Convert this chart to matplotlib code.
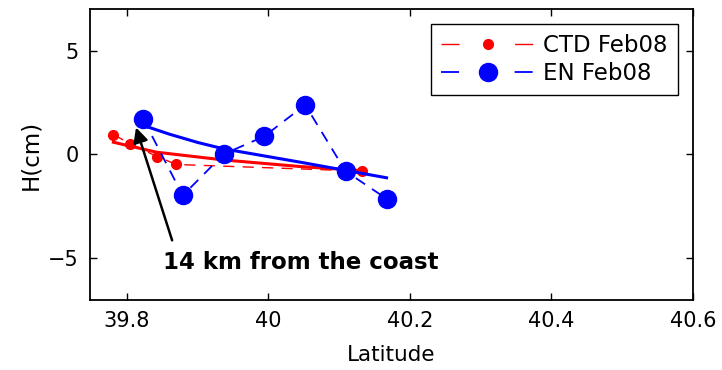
import matplotlib
matplotlib.use("Agg")
import matplotlib.pyplot as plt
from matplotlib.lines import Line2D

# ---- data ----
ctd_lat = [39.781, 39.805, 39.843, 39.870, 40.132]
ctd_h = [0.96, 0.51, -0.10, -0.48, -0.80]

en_lat = [39.823, 39.879, 39.937, 39.994, 40.052, 40.109, 40.167]
en_h = [1.72, -1.97, 0.02, 0.87, 2.39, -0.80, -2.13]

ctd_fit_lat = [39.781, 39.842, 39.936, 40.045, 40.129]
ctd_fit_h = [0.59, 0.11, -0.26, -0.58, -0.77]

en_fit_lat = [39.831, 39.860, 39.900, 39.937, 40.045, 40.110, 40.167]
en_fit_h = [1.31, 0.98, 0.58, 0.27, -0.37, -0.77, -1.12]

xticks = [39.8, 40.0, 40.2, 40.4, 40.6]
xticklabels = ["39.8", "40", "40.2", "40.4", "40.6"]
yticks = [-5, 0, 5]

plt.rcParams["font.family"] = "DejaVu Sans"
plt.rcParams["lines.scale_dashes"] = False

fig = plt.figure(figsize=(7.22, 3.70), dpi=100)
ax = fig.add_axes([0.1247, 0.1892, 0.8351, 0.7865])

dash = (0, (8, 6))
ax.plot(ctd_lat, ctd_h, color="r", ls=dash, lw=1.0, marker="o", ms=7,
        mec="r", mfc="r", zorder=3)
ax.plot(en_lat, en_h, color="b", ls=dash, lw=1.3, marker="o", ms=13,
        mec="b", mfc="b", zorder=4)
ax.plot(ctd_fit_lat, ctd_fit_h, color="r", lw=2.2, zorder=3)
ax.plot(en_fit_lat, en_fit_h, color="b", lw=2.2, zorder=4)

# arrow and its label
ax.annotate("", xy=(39.813, 1.30), xytext=(39.864, -4.13),
            arrowprops=dict(arrowstyle="-|>", color="k", lw=1.8,
                            mutation_scale=22, shrinkA=0, shrinkB=0),
            zorder=6)
ax.text(39.851, -5.2, "14 km from the coast", fontsize=16.5,
        fontweight="bold", ha="left", va="center", zorder=6)

ax.set_xlim(39.748, 40.6)
ax.set_ylim(-7, 7)
ax.set_xticks(xticks)
ax.set_xticklabels(xticklabels)
ax.set_yticks(yticks)
ax.tick_params(direction="in", top=True, right=True, length=5, width=1.0,
               labelsize=15, pad=8)
for s in ax.spines.values():
    s.set_linewidth(1.3)
ax.set_xlabel("Latitude", fontsize=15.5, labelpad=10)
ax.set_ylabel("H(cm)", fontsize=16.5, labelpad=4)

handles = [
    Line2D([], [], color="r", lw=1.0, dashes=(13, 40), marker="o", ms=7),
    Line2D([], [], color="b", lw=1.3, dashes=(13, 40), marker="o", ms=13),
]
leg = ax.legend(handles, ["CTD Feb08", "EN Feb08"], loc="upper right",
                bbox_to_anchor=(0.975, 0.948), borderaxespad=0,
                fontsize=16.5, handlelength=4.1, numpoints=1, fancybox=False,
                framealpha=1, edgecolor="k", labelspacing=0.2,
                borderpad=0.45, handletextpad=0.35)
leg.get_frame().set_linewidth(1.0)

fig.savefig("out.png", dpi=100)
